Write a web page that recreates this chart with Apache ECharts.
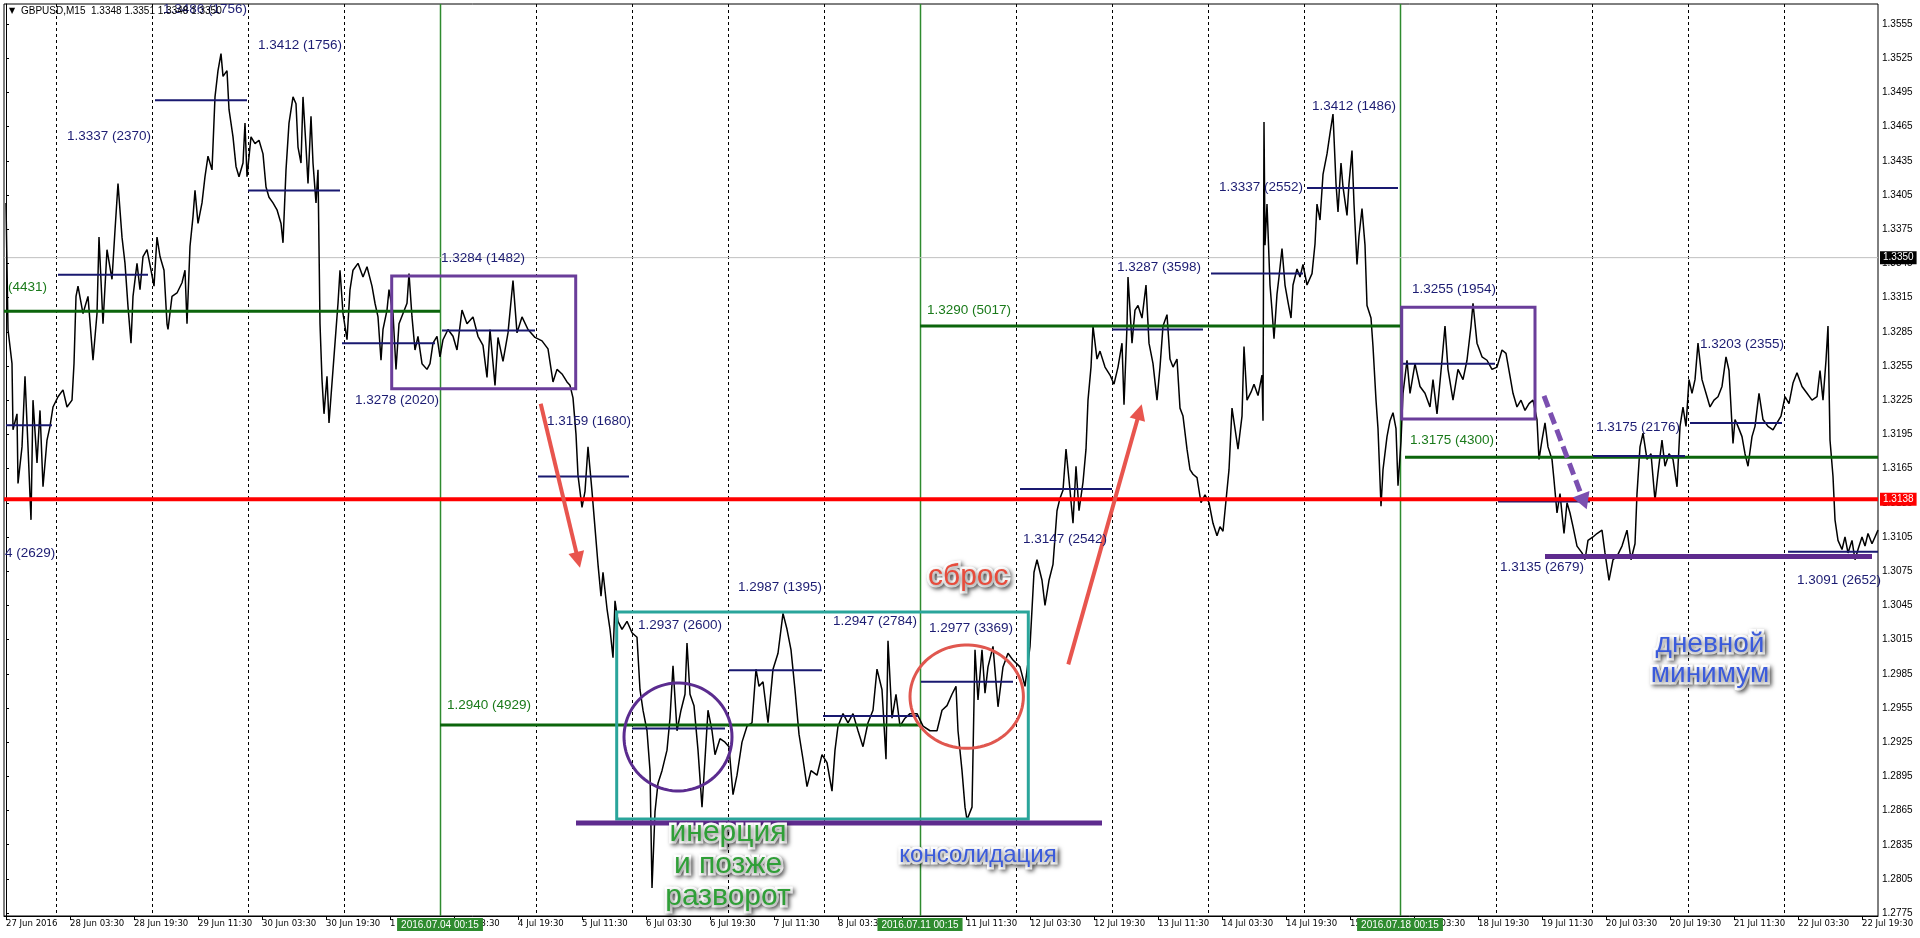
<!DOCTYPE html>
<html><head><meta charset="utf-8">
<script src="https://cdn.jsdelivr.net/npm/echarts@6/dist/echarts.min.js"></script>
<style>html,body{margin:0;padding:0;background:#fff}#c{width:1920px;height:938px}</style>
</head><body><div id="c"></div>
<script>
// ---- price series (M15 bar index, close) ----
const priceBar = [0,2,6,7,11,12,16,19,22,25,27,31,34,37,41,44,47,52,57,61,66,68,70,72,77,82,87,91,93,97,101,106,109,112,116,119,122,125,127,131,134,137,141,145,148,151,154,158,161,162,166,171,176,179,181,184,187,189,192,196,199,202,206,209,212,215,217,221,223,227,230,233,237,239,241,245,249,253,257,260,263,267,271,275,277,280,283,287,290,292,295,297,300,302,305,307,310,312,314,316,318,321,323,326,329,332,334,337,341,344,347,352,357,361,366,369,372,375,377,381,383,387,390,393,397,401,403,406,409,412,416,421,424,427,431,434,437,442,447,451,456,461,467,472,
477,481,484,489,492,497,502,507,511,516,522,529,536,542,547,551,556,561,564,567,570,572,576,579,582,586,589,592,595,597,601,604,607,609,612,616,621,626,631,634,637,641,644,646,649,652,656,661,664,667,671,675,679,681,684,688,692,696,699,702,706,709,714,719,723,727,731,736,741,746,750,753,757,762,767,772,777,781,785,789,793,797,801,805,811,816,821,826,829,832,837,842,847,852,857,862,867,871,876,880,882,886,890,894,899,904,911,917,924,931,936,941,946,950,952,956,959,961,
966,969,972,976,979,982,987,992,997,1002,1007,1014,1019,
1024,1028,1031,1036,1039,1043,1047,1051,1054,1057,1060,1064,1067,1070,1073,1077,1080,1082,1085,1087,1091,1094,1099,1104,1108,1112,1116,1118,1121,1122,1126,1129,1132,1136,1140,1143,1147,1151,1154,1157,1161,1164,1167,1171,1174,1177,1181,1184,1187,1191,1195,1199,1203,1207,1211,1214,1217,1221,1223,1226,1229,1232,1236,1238,1241,1245,1248,1252,1256,1257,1258,1259,1261,1264,1266,1268,1271,1273,1276,1279,1282,1285,1287,1291,1294,1297,1301,1306,1309,1311,1314,1317,1321,1324,1327,1330,1332,1335,1337,1341,1343,1346,1348,1351,1353,1356,1359,1361,1365,1367,1370,1372,1375,1377,1381,1384,1387,1390,1392,1395,
1397,1401,1404,1409,1414,1419,1424,1427,1431,1436,1439,1442,1447,1452,1457,1461,1465,1467,1471,1476,1481,1486,1491,1496,1500,1504,1507,1511,1515,1519,1523,1527,1531,1533,1536,1539,1542,1546,1548,1551,1554,1558,1561,1564,1567,1571,1576,1579,1582,1587,1591,1596,1599,1603,1607,1611,1616,1621,1625,1629,1631,1634,1637,1641,1645,1649,1652,1656,1659,1663,1667,1671,1674,1677,1680,1683,1686,1689,1692,1696,1700,1704,1708,1712,1716,1720,1723,1727,1729,1732,1736,1739,1742,1746,1749,1753,1757,1762,1767,1771,1775,1779,1783,1787,1791,1796,1801,1806,1811,1814,1817,1820,1822,1824,1827,1829,1832,1836,1839,1842,1846,1849,1852,1856,1859,1862,1866,1869,1872];
const priceClose = [1.3398,1.3287,1.3257,1.3199,1.3213,1.3152,1.3184,1.3246,1.3184,1.3120,1.3225,1.3170,1.3216,1.3149,1.3190,1.3202,1.3219,1.3228,1.3234,1.3219,1.3225,1.3257,1.3316,1.3325,1.3301,1.3316,1.3260,1.3301,1.3368,1.3292,1.3357,1.3331,1.3374,1.3415,1.3368,1.3345,1.3307,1.3275,1.3316,1.3345,1.3322,1.3351,1.3357,1.3339,1.3325,1.3368,1.3351,1.3339,1.3292,1.3287,1.3316,1.3319,1.3328,1.3339,1.3292,1.3360,1.3386,1.3409,1.3380,1.3398,1.3421,1.3439,1.3427,1.3491,1.3514,1.3529,1.3509,1.3514,1.3480,1.3456,1.3430,1.3421,1.3433,1.3468,1.3421,1.3456,1.3450,1.3453,1.3441,1.3412,1.3403,1.3398,1.3392,1.3380,1.3363,1.3427,1.3468,1.3491,1.3485,1.3447,1.3433,1.3491,1.3447,1.3415,1.3474,1.3433,1.3398,1.3427,1.3292,1.3243,1.3213,1.3246,1.3205,1.3240,1.3275,1.3310,1.3339,1.3301,1.3278,1.3322,1.3339,1.3345,1.3333,1.3342,1.3325,1.3310,1.3298,1.3260,1.3287,1.3304,1.3322,1.3301,1.3252,1.3292,1.3301,1.3310,1.3336,1.3298,1.3269,1.3281,1.3257,1.3252,1.3257,1.3275,1.3281,1.3263,1.3278,1.3287,1.3281,1.3269,1.3304,1.3292,1.3298,1.3281,
1.3273,1.3245,1.3287,1.3238,1.3280,1.3259,1.3284,1.3330,1.3284,1.3298,1.3287,1.3280,1.3277,1.3270,1.3241,1.3252,1.3248,1.3241,1.3238,1.3227,1.3195,1.3159,1.3131,1.3145,1.3184,1.3145,1.3113,1.3081,1.3053,1.3074,1.3042,1.3024,1.2999,1.3049,1.3031,1.3024,1.3031,1.3021,1.3017,1.2971,1.2953,1.2935,1.2900,1.2797,1.2864,1.2889,1.2900,1.2918,1.2946,1.2992,1.2935,1.2953,1.2967,1.3012,1.2967,1.2957,1.2918,1.2868,1.2910,1.2953,1.2935,1.2914,1.2928,1.2925,1.2921,1.2879,1.2896,1.2925,1.2939,1.2942,1.2989,1.2974,1.2978,1.2942,1.2989,1.3003,1.3038,1.3024,1.3006,1.2971,1.2932,1.2910,1.2886,1.2900,1.2896,1.2914,1.2907,1.2882,1.2918,1.2939,1.2950,1.2942,1.2950,1.2935,1.2921,1.2942,1.2953,1.2989,1.2971,1.2910,1.3014,1.2946,1.2967,1.2939,1.2946,1.2950,1.2950,1.2939,1.2935,1.2935,1.2953,1.2957,1.2967,1.2974,1.2935,1.2900,1.2868,1.2857,
1.2868,1.3006,1.2962,1.3006,1.2968,1.2991,1.3009,1.2956,1.2991,1.3003,1.2997,1.2991,1.2974,
1.3009,1.3074,1.3085,1.3067,1.3045,1.3067,1.3081,1.3128,1.3139,1.3146,1.3182,1.3146,1.3117,1.3167,1.3128,1.3153,1.3182,1.3225,1.3254,1.3290,1.3261,1.3268,1.3254,1.3247,1.3239,1.3254,1.3275,1.3221,1.3290,1.3333,1.3275,1.3304,1.3308,1.3297,1.3326,1.3275,1.3257,1.3225,1.3254,1.3290,1.3300,1.3261,1.3254,1.3261,1.3218,1.3211,1.3182,1.3164,1.3160,1.3157,1.3135,1.3142,1.3135,1.3117,1.3106,1.3114,1.3110,1.3146,1.3164,1.3218,1.3200,1.3182,1.3211,1.3272,1.3225,1.3232,1.3239,1.3229,1.3247,1.3207,1.3469,1.3361,1.3397,1.3326,1.3304,1.3279,1.3318,1.3333,1.3358,1.3326,1.3311,1.3297,1.3326,1.3340,1.3333,1.3344,1.3326,1.3336,1.3362,1.3397,1.3383,1.3423,1.3441,1.3459,1.3476,1.3415,1.3390,1.3433,1.3412,1.3387,1.3415,1.3444,1.3397,1.3344,1.3369,1.3393,1.3361,1.3308,1.3297,1.3272,1.3225,1.3200,1.3132,1.3164,1.3193,1.3207,1.3214,1.3200,1.3150,1.3189,
1.3231,1.3260,1.3231,1.3257,1.3237,1.3231,1.3219,1.3243,1.3213,1.3260,1.3290,1.3252,1.3225,1.3252,1.3243,1.3260,1.3290,1.3310,1.3275,1.3263,1.3260,1.3252,1.3254,1.3269,1.3266,1.3246,1.3231,1.3219,1.3225,1.3216,1.3222,1.3225,1.3208,1.3173,1.3190,1.3205,1.3184,1.3173,1.3155,1.3126,1.3143,1.3108,1.3135,1.3126,1.3114,1.3097,1.3091,1.3085,1.3102,1.3105,1.3108,1.3111,1.3091,1.3067,1.3085,1.3088,1.3097,1.3111,1.3085,1.3099,1.3143,1.3184,1.3196,1.3173,1.3178,1.3137,1.3161,1.3190,1.3167,1.3178,1.3173,1.3149,1.3202,1.3219,1.3202,1.3243,1.3231,1.3243,1.3275,1.3243,1.3231,1.3219,1.3225,1.3228,1.3237,1.3263,1.3251,1.3187,1.3208,1.3202,1.3193,1.3178,1.3167,1.3193,1.3202,1.3231,1.3208,1.3202,1.3199,1.3205,1.3211,1.3228,1.3222,1.3240,1.3249,1.3237,1.3231,1.3225,1.3228,1.3251,1.3225,1.3260,1.3290,1.3190,1.3158,1.3120,1.3102,1.3094,1.3105,1.3091,1.3102,1.3085,1.3094,1.3105,1.3097,1.3108,1.3099,1.3105,1.3111];

// ---- axes ----
const timeTicks = [0,64,128,192,256,320,384,448,512,576,640,704,768,832,896,960,1024,1088,1152,1216,1280,1344,1408,1472,1536,1600,1664,1728,1792,1856];
const timeLabels = ['27 Jun 2016','28 Jun 03:30','28 Jun 19:30','29 Jun 11:30','30 Jun 03:30','30 Jun 19:30','1 Jul 11:30','4 Jul 03:30','4 Jul 19:30','5 Jul 11:30','6 Jul 03:30','6 Jul 19:30','7 Jul 11:30','8 Jul 03:30','8 Jul 19:30','11 Jul 11:30','12 Jul 03:30','12 Jul 19:30','13 Jul 11:30','14 Jul 03:30','14 Jul 19:30','15 Jul 11:30','18 Jul 03:30','18 Jul 19:30','19 Jul 11:30','20 Jul 03:30','20 Jul 19:30','21 Jul 11:30','22 Jul 03:30','22 Jul 19:30'];
const priceTicks = [1.2775,1.2805,1.2835,1.2865,1.2895,1.2925,1.2955,1.2985,1.3015,1.3045,1.3075,1.3105,1.3135,1.3165,1.3195,1.3225,1.3255,1.3285,1.3315,1.3345,1.3375,1.3405,1.3435,1.3465,1.3495,1.3525,1.3555];
const daySeparators = [50,146,242,338,530,626,722,818,1010,1106,1202,1298,1490,1586,1682,1778];
const weekStarts = [434,914,1394];
const weekStartLabels = ['2016.07.04 00:15','2016.07.11 00:15','2016.07.18 00:15'];
const bidPrice = 1.3350;
const redLevel = 1.3138;

// ---- levels [startBar, endBar, price] ----
const dayLevels = [[0,46,1.3203],[52,142,1.3335],[149,241,1.3488],[242,334,1.3409],[336,429,1.3275],[436,529,1.3286],[532,623,1.3158],[626,719,1.2937],[723,816,1.2988],[817,912,1.2948],[915,1007,1.2978],[1014,1106,1.3147],[1106,1197,1.3287],[1205,1297,1.3336],[1301,1392,1.3411],[1396,1489,1.3257],[1492,1584,1.3136],[1587,1679,1.3176],[1684,1776,1.3205],[1782,1872,1.3092]];
const dayLabelText = ['4 (2629)','1.3337 (2370)','1.3486 (1756)','1.3412 (1756)','1.3278 (2020)','1.3284 (1482)','1.3159 (1680)','1.2937 (2600)','1.2987 (1395)','1.2947 (2784)','1.2977 (3369)','1.3147 (2542)','1.3287 (3598)','1.3337 (2552)','1.3412 (1486)','1.3255 (1954)','1.3135 (2679)','1.3175 (2176)','1.3203 (2355)','1.3091 (2652)'];
const dayLabelAt = [[-1,1.30910],[61,1.34568],[157,1.35682],[252,1.35366],[349,1.32252],[435,1.33497],[541,1.32068],[632,1.30278],[732,1.30611],[827,1.30313],[923,1.30252],[1017,1.31033],[1111,1.33418],[1213,1.34120],[1306,1.34831],[1406,1.33226],[1494,1.30787],[1590,1.32015],[1694,1.32743],[1791,1.30673]];
const weekLevels = [[-2,434,1.3303],[434,914,1.2940],[914,1394,1.3290],[1399,1872,1.3175]];
const weekLabelText = ['(4431)','1.2940 (4929)','1.3290 (5017)','1.3175 (4300)'];
const weekLabelAt = [[2,1.33243],[441,1.29576],[921,1.33041],[1404,1.31901]];

// ---- annotations ----
const purpleBoxes = [[385.7,1.3334,569.7,1.3235],[1395.7,1.33065,1529,1.32085]];
const tealBoxes = [[610.7,1.30392,1022.3,1.28576]];
const supportLines = [[570,1096,1.2854],[1539,1866,1.30878]];
const purpleCircles = [[618,1.29769,726,1.28822]];
const redCircles = [[904,1.30103,1017.4,1.29196]];
const redArrows = [[534.7,1.32218,574,1.30780],[1062.3,1.29932,1135.7,1.32214]];
const purpleArrows = [[1538,1.32287,1580.7,1.31293]];
const noteText = ['сброс','инерция\nи позже\nразворот','консолидация','дневной\nминимум'];
const noteAt = [[922,1.30699],[722,1.28173],[972,1.28261],[1704,1.29980]];

// ---- rendering ----
const X_MIN = -2, X_MAX = 1872, Y_MIN = 1.27725, Y_MAX = 1.35725;
const FONT = 'Liberation Sans, Arial, sans-serif';

function levelSeries(data, color, width, z) {
  return {type:'custom', silent:true, z, data, animation:false,
    encode:{x:[0,1], y:2},
    renderItem:(p, api) => {
      const a = api.coord([api.value(0), api.value(2)]);
      const b = api.coord([api.value(1), api.value(2)]);
      return {type:'line', shape:{x1:a[0],y1:a[1],x2:b[0],y2:b[1]}, style:{stroke:color, lineWidth:width}};
    }};
}
function vlineSeries(data, color, width, dash, z) {
  return {type:'custom', silent:true, z, animation:false, data:data.map(v=>[v]),
    encode:{x:0},
    renderItem:(p, api) => {
      const a = api.coord([api.value(0), Y_MAX]);
      const b = api.coord([api.value(0), Y_MIN]);
      const x = Math.round(a[0]) + 0.5;
      return {type:'line', shape:{x1:x,y1:a[1],x2:x,y2:b[1]}, style:{stroke:color, lineWidth:width, lineDash:dash}};
    }};
}
function boxSeries(data, color, width, z) {
  return {type:'custom', silent:true, z, animation:false, data,
    encode:{x:[0,2], y:[1,3]},
    renderItem:(p, api) => {
      const a = api.coord([api.value(0), api.value(1)]);
      const b = api.coord([api.value(2), api.value(3)]);
      return {type:'rect', shape:{x:Math.min(a[0],b[0]), y:Math.min(a[1],b[1]), width:Math.abs(b[0]-a[0]), height:Math.abs(b[1]-a[1])},
        style:{fill:'transparent', stroke:color, lineWidth:width}};
    }};
}
function ellipseSeries(data, color, width, z) {
  return {type:'custom', silent:true, z, animation:false, data,
    encode:{x:[0,2], y:[1,3]},
    renderItem:(p, api) => {
      const a = api.coord([api.value(0), api.value(1)]);
      const b = api.coord([api.value(2), api.value(3)]);
      const cx=(a[0]+b[0])/2, cy=(a[1]+b[1])/2, rx=Math.abs(b[0]-a[0])/2, ry=Math.abs(b[1]-a[1])/2;
      const pts=[];
      for(let i=0;i<90;i++){const t=i/90*Math.PI*2; pts.push([cx+rx*Math.cos(t), cy+ry*Math.sin(t)]);}
      return {type:'polygon', shape:{points:pts}, style:{fill:'transparent', stroke:color, lineWidth:width}};
    }};
}
function arrowSeries(data, color, width, dash, head, hw, z) {
  return {type:'custom', silent:true, z, animation:false, data,
    encode:{x:[0,2], y:[1,3]},
    renderItem:(p, api) => {
      const a = api.coord([api.value(0), api.value(1)]);
      const t = api.coord([api.value(2), api.value(3)]);
      const dx=t[0]-a[0], dy=t[1]-a[1], L=Math.hypot(dx,dy), ux=dx/L, uy=dy/L;
      const bx=t[0]-ux*head, by=t[1]-uy*head;
      return {type:'group', children:[
        {type:'line', shape:{x1:a[0],y1:a[1],x2:bx+ux*2,y2:by+uy*2}, style:{stroke:color, lineWidth:width, lineDash:dash, lineCap:'butt'}},
        {type:'polygon', shape:{points:[[t[0],t[1]],[bx-uy*hw,by+ux*hw],[bx+uy*hw,by-ux*hw]]}, style:{fill:color}}
      ]};
    }};
}
function textSeries(pos, texts, style, z) {
  return {type:'custom', silent:true, z, animation:false, data:pos,
    encode:{x:0, y:1},
    renderItem:(p, api) => {
      const a = api.coord([api.value(0), api.value(1)]);
      return {type:'text', x:a[0], y:a[1], style:Object.assign({text:texts[p.dataIndex]}, style)};
    }};
}
function tagSeries(kind, values, texts, bg, z) {
  return {type:'custom', silent:true, z, animation:false, data:values.map(v=>[v]),
    encode: kind==='x' ? {x:0} : {y:0},
    renderItem:(p, api) => {
      const v = api.value(0);
      if (kind==='x') {
        const a = api.coord([v, Y_MIN]);
        return {type:'text', x:a[0], y:a[1]+2, style:{text:texts[p.dataIndex], fill:'#fff', backgroundColor:bg, padding:[2,4,1,4], font:'10px Liberation Sans Narrow, Liberation Sans, sans-serif', align:'center', verticalAlign:'top'}};
      }
      const a = api.coord([X_MAX, v]);
      return {type:'text', x:a[0]+2, y:a[1], style:{text:texts[p.dataIndex], fill:'#fff', backgroundColor:bg, padding:[2,3,1,3], font:'10px Liberation Sans, sans-serif', align:'left', verticalAlign:'middle'}};
    }};
}

const noteStyles = [
  {fill:'#e74c3c', font:'30px '+FONT, align:'left'},
  {fill:'#2f9f37', font:'30px '+FONT, align:'center', lineHeight:32},
  {fill:'#3b5bdb', font:'24px '+FONT, align:'center'},
  {fill:'#3b5bdb', font:'28px '+FONT, align:'center', lineHeight:30}
];
const noteBase = {verticalAlign:'middle', stroke:'#fff', lineWidth:5,
  shadowBlur:4, shadowColor:'rgba(0,0,0,0.55)', shadowOffsetX:2, shadowOffsetY:2,
  textShadowBlur:4, textShadowColor:'rgba(0,0,0,0.55)', textShadowOffsetX:2, textShadowOffsetY:2};
const noteSeries = noteText.map((t,i)=>textSeries([noteAt[i]],[t],Object.assign({}, noteBase, noteStyles[i]), 30));

const chart = echarts.init(document.getElementById('c'), null, {renderer:'canvas'});
chart.setOption({
  animation:false,
  backgroundColor:'#fff',
  grid:{left:4, right:42, top:4, bottom:22, show:true, borderColor:'#000', borderWidth:1, backgroundColor:'#fff'},
  xAxis:{type:'value', min:X_MIN, max:X_MAX, position:'bottom',
    axisLine:{show:true, lineStyle:{color:'#000', width:1}},
    axisTick:{show:true, customValues:timeTicks, length:4, lineStyle:{color:'#000'}},
    axisLabel:{customValues:timeTicks, align:'left', margin:3, color:'#000', fontSize:9.5, fontFamily:'Liberation Sans Narrow, DejaVu Sans Condensed, sans-serif',
      formatter:(v)=>{const i=timeTicks.indexOf(Math.round(v)); return i>=0?timeLabels[i]:'';}},
    splitLine:{show:false}},
  yAxis:{type:'value', min:Y_MIN, max:Y_MAX, position:'right', scale:true,
    axisLine:{show:true, lineStyle:{color:'#000', width:1}},
    axisTick:{show:true, customValues:priceTicks, length:3, lineStyle:{color:'#000'}},
    axisLabel:{customValues:priceTicks, margin:4, color:'#000', fontSize:10, fontFamily:'Liberation Sans, sans-serif', formatter:(v)=>v.toFixed(4)},
    splitLine:{show:false}},
  graphic:[
    {type:'text', left:9, top:7, style:{text:'▼', font:'8px DejaVu Sans', fill:'#000'}, z:50},
    {type:'text', left:21, top:6, style:{text:'GBPUSD,M15  1.3348 1.3351 1.3348 1.3350', font:'10px Liberation Sans, sans-serif', fill:'#000'}, z:50}
  ],
  series:[
    vlineSeries(daySeparators, '#000', 1, [3,3], 1),
    vlineSeries(weekStarts, '#2e8b2e', 1.5, null, 1),
    levelSeries([[X_MIN,X_MAX,bidPrice]], '#c0c0c0', 1, 1),
    {type:'line', data:priceBar.map((b,i)=>[b,priceClose[i]]), showSymbol:false, symbol:'none', z:3,
      lineStyle:{color:'#000', width:1.5}, silent:true, animation:false},
    levelSeries(weekLevels, '#0b650b', 3, 4),
    levelSeries(dayLevels, '#191970', 2, 4),
    levelSeries([[X_MIN,X_MAX,redLevel]], '#ff0000', 4, 5),
    boxSeries(purpleBoxes, '#6a3d9a', 3, 6),
    boxSeries(tealBoxes, '#2aa59b', 3, 6),
    levelSeries(supportLines, '#5e2b8e', 5, 6),
    ellipseSeries(purpleCircles, '#5b2c8f', 3, 6),
    ellipseSeries(redCircles, '#e0574f', 3, 6),
    arrowSeries(redArrows, '#e8554e', 4, null, 16, 8, 7),
    arrowSeries(purpleArrows, '#7b4fb0', 5, [12,6], 16, 9, 7),
    textSeries(dayLabelAt, dayLabelText, {fill:'#1c1c72', font:'13.5px '+FONT, align:'left', verticalAlign:'middle'}, 8),
    textSeries(weekLabelAt, weekLabelText, {fill:'#1a7a1a', font:'13.5px '+FONT, align:'left', verticalAlign:'middle'}, 8),
    ...noteSeries,
    tagSeries('x', weekStarts, weekStartLabels, '#2e8b2e', 40),
    tagSeries('y', [bidPrice], ['1.3350'], '#000', 40),
    tagSeries('y', [redLevel], ['1.3138'], '#ff0000', 40)
  ]
});
</script>
</body></html>
